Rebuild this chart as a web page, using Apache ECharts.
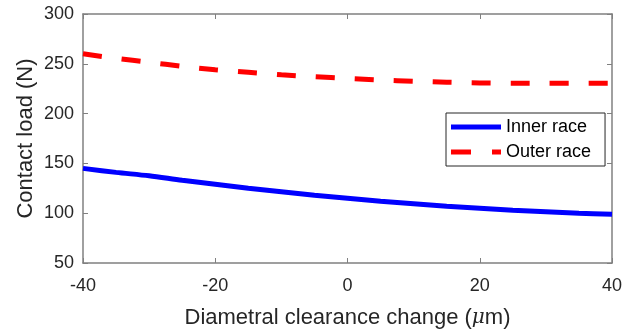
<!DOCTYPE html>
<html><head><meta charset="utf-8">
<script src="https://cdn.jsdelivr.net/npm/echarts@6/dist/echarts.min.js"></script>
<style>html,body{margin:0;padding:0;background:#fff}#c{width:634px;height:336px}</style>
</head><body><div id="c"></div>
<script>
const clearance = [-40,-35,-30,-25,-20,-15,-10,-5,0,5,10,15,20,25,30,35,40];
const innerRace = [145,141,137.5,133,129,125,121.5,118,115,112,109.5,107,105,103,101.5,100,99];
const outerRace = [260,255.5,251.5,247.5,244,241.5,239,237,235.3,233.7,232.5,231.5,230.8,230.5,230.4,230.4,230.5];
const seriesNames = ['Inner race','Outer race'];
const xTitle = ['Diametral clearance change (', '\u03bc', 'm)'];
const yTitle = 'Contact load (N)';

const pair = (xs, ys) => xs.map((x,i)=>[x, ys[i]]);
const font = 'Liberation Sans, Arial, Helvetica, sans-serif';
const axisGray = '#808080';
const textColor = '#262626';
const chart = echarts.init(document.getElementById('c'), null, {renderer:'canvas'});
const common = {
  axisLine:{show:true, onZero:false, lineStyle:{color:axisGray, width:1.5}},
  axisTick:{show:true, inside:true, length:5, lineStyle:{color:axisGray, width:1}},
  splitLine:{show:false}
};
chart.setOption({
  animation:false,
  grid:{left:83, right:22, top:14, bottom:73},
  legend:{
    data:[
      {name:seriesNames[0], icon:'path://M0,0H50V5H0Z'},
      {name:seriesNames[1], icon:'path://M0,0H20V5H0Z M41,0H50V5H41Z'}
    ],
    orient:'vertical', left:446, top:113,
    itemWidth:50, itemHeight:5, itemGap:5,
    padding:[4,14,4,5],
    borderColor:'#262626', borderWidth:1, backgroundColor:'#fff',
    textStyle:{fontFamily:font, fontSize:18, color:'#000', lineHeight:20}
  },
  xAxis:[
    Object.assign({type:'value', min:-40, max:40, interval:20, position:'bottom',
      name:'{a|'+xTitle[0]+'}{m|'+xTitle[1]+'}{a|'+xTitle[2]+'}', nameLocation:'middle', nameGap:44,
      nameMoveOverlap:false,
      nameTextStyle:{fontFamily:font, fontSize:22, color:textColor,
        rich:{a:{fontFamily:font, fontSize:22, color:textColor},
              m:{fontFamily:'DejaVu Serif, serif', fontStyle:'italic', fontSize:20, color:textColor}}},
      axisLabel:{fontFamily:font, fontSize:18, color:textColor, margin:14}}, common),
    Object.assign({type:'value', min:-40, max:40, interval:20, position:'top',
      axisLabel:{show:false}}, common)
  ],
  yAxis:[
    Object.assign({type:'value', min:50, max:300, interval:50, position:'left',
      name:yTitle, nameLocation:'middle', nameGap:46, nameMoveOverlap:false,
      nameTextStyle:{fontFamily:font, fontSize:22, color:textColor},
      axisLabel:{fontFamily:font, fontSize:18, color:textColor, margin:9}}, common),
    Object.assign({type:'value', min:50, max:300, interval:50, position:'right',
      axisLabel:{show:false}}, common)
  ],
  series:[
    {name:seriesNames[0], type:'line', data:pair(clearance, innerRace), symbol:'none', smooth:0.3,
     lineStyle:{color:'#0000ff', width:5}, itemStyle:{color:'#0000ff'}},
    {name:seriesNames[1], type:'line', data:pair(clearance, outerRace), symbol:'none', smooth:0.3,
     lineStyle:{color:'#ff0000', width:5, type:[19,20]}, itemStyle:{color:'#ff0000'}}
  ]
});
</script></body></html>
